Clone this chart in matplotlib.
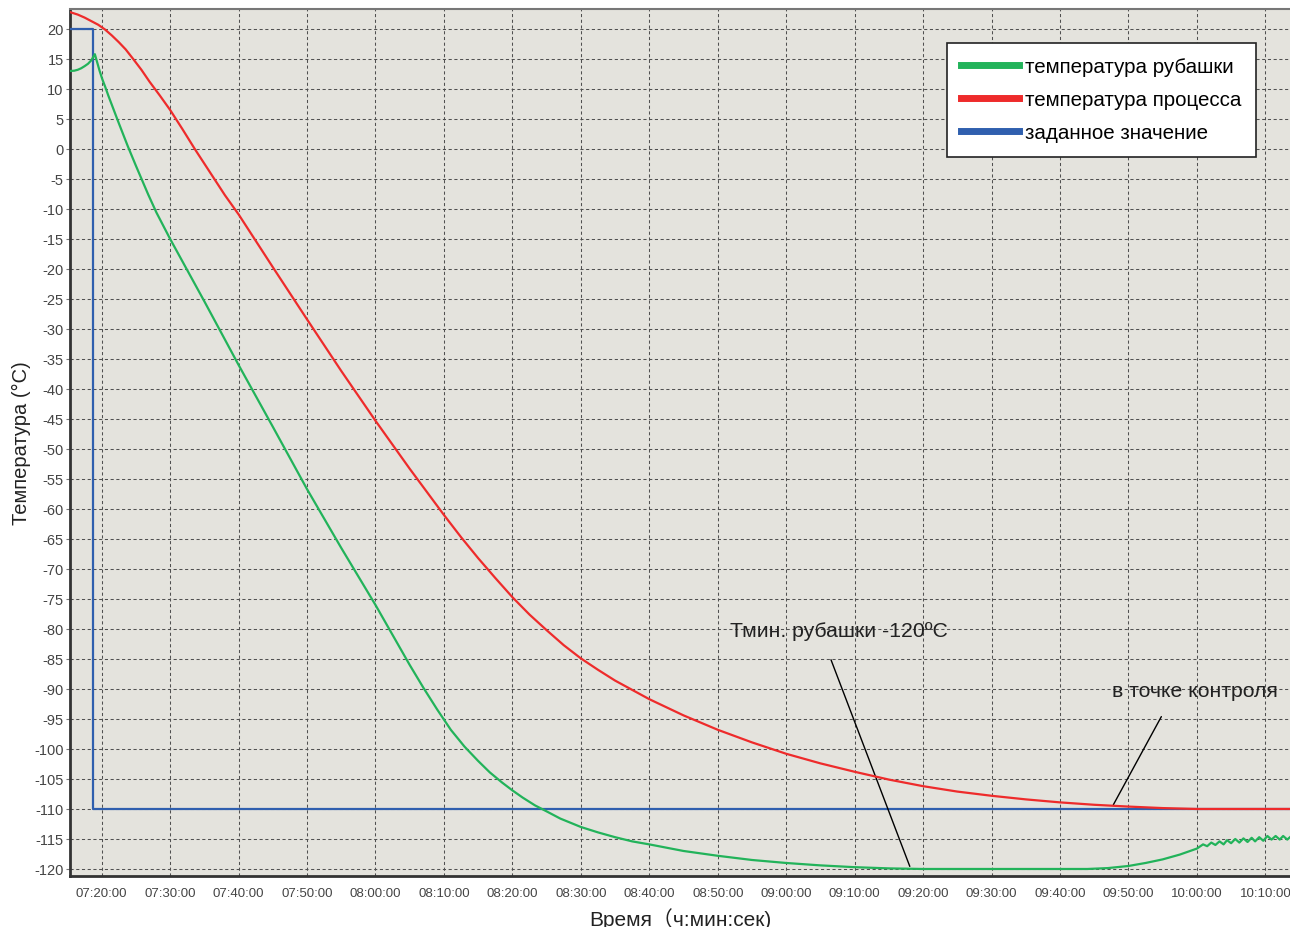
import numpy as np
import matplotlib.pyplot as plt
from matplotlib.ticker import FixedLocator, FuncFormatter

plt.rcParams['font.family'] = ['Liberation Sans', 'Noto Sans CJK SC', 'DejaVu Sans']
plt.rcParams['axes.unicode_minus'] = False

# time in minutes after 07:00:00
x_min, x_max = 15.37, 193.6

# setpoint
sp_t = [15.37, 18.7, 18.7, 193.7]
sp_v = [20, 20, -110, -110]

# process temperature
proc_t = [15.4, 16.5, 17.5, 18.5, 19.5, 20.5, 21.5, 22.5, 23.5, 24.6, 25.8, 27, 28.5, 30,
          31.8, 33.6, 36, 38, 40, 45, 50, 55, 60, 65, 70, 72.5, 75, 77.5, 80, 82.5, 85, 87.5,
          90, 92.5, 95, 100, 105, 110, 115, 120, 125, 130, 135, 140, 145, 150,
          155, 160, 165, 170, 175, 180, 193.7]
proc_v = [22.8, 22.4, 21.9, 21.3, 20.7, 19.9, 18.9, 17.8, 16.6, 15.0, 13.2, 11.2, 8.9, 6.5,
          3.3, 0, -4.2, -7.7, -10.9, -19.7, -28.4, -37, -45.3, -53.3, -61, -64.7, -68.2,
          -71.5, -74.7, -77.6, -80.2, -82.7, -84.9, -86.8, -88.6, -91.7, -94.4, -96.8, -98.9,
          -100.8, -102.4, -103.8, -105.1, -106.2, -107.1, -107.8, -108.4, -108.9, -109.3,
          -109.6, -109.85, -110, -110]

# jacket temperature
jack_t = [15.4, 16.0, 16.5, 17.0, 17.5, 18.0, 18.5, 19.0, 19.3, 19.7, 20.1, 20.5, 21.0, 21.5,
          22.5, 23.8, 25, 26.8, 28, 30, 35, 40, 45, 50, 55, 60, 63, 65, 67, 69, 71, 73, 75,
          76.7, 78.5, 80, 81.5, 83.3, 85, 87, 90, 92.5, 95, 97.5, 100, 105, 110, 115, 120,
          125, 130, 135, 140, 160, 164, 167, 170, 172.5, 175, 177.5, 180,
          180.9, 181.5, 182.1, 182.7, 183.3, 183.9, 184.4, 185.0, 185.6, 186.2, 186.8,
          187.4, 188.0, 188.5, 189.1, 189.7, 190.3, 190.9, 191.5, 192.1, 192.6, 193.2, 193.7]
jack_v = [13.0, 13.05, 13.2, 13.45, 13.8, 14.2, 14.8, 15.8, 14.6, 13.0, 11.6, 10.4, 8.8, 7.3,
          4.3, 0.5, -2.8, -7.6, -10.6, -15, -25.4, -36, -46.3, -56.7, -66.5, -76, -82, -86,
          -89.8, -93.4, -96.8, -99.6, -102, -103.9, -105.6, -106.9, -108.1, -109.4, -110.4,
          -111.6, -113, -113.9, -114.7, -115.4, -115.9, -117.0, -117.8, -118.5, -119.0,
          -119.4, -119.7, -119.9, -120, -120, -120, -119.85, -119.5, -119.0, -118.4,
          -117.6, -116.6,
          -115.9, -116.2, -115.6, -116.0, -115.4, -115.9, -115.2, -115.7, -115.0, -115.6,
          -114.9, -115.5, -114.8, -115.4, -114.7, -115.3, -114.5, -115.1, -114.5, -115.1,
          -114.5, -115.1, -114.6]

x_ticks = list(range(20, 191, 10))
y_ticks = list(range(-120, 21, 5))

fig = plt.figure(figsize=(12.9, 9.28), dpi=100)
ax = fig.add_axes([70 / 1290, 1 - 877 / 928, 1 - 70 / 1290, (877 - 10) / 928])
ax.set_facecolor('#e4e3dd')

ax.plot(sp_t, sp_v, color='#2f5fae', lw=1.6, label='заданное значение', zorder=3)
ax.plot(proc_t, proc_v, color='#ee2b2b', lw=1.6, label='температура процесса', zorder=4)
ax.plot(jack_t, jack_v, color='#22b35a', lw=1.6, label='температура рубашки', zorder=5)

ax.set_xlim(x_min, x_max)
ax.set_ylim(-121.17, 23.33)
ax.xaxis.set_major_locator(FixedLocator(x_ticks))
ax.yaxis.set_major_locator(FixedLocator(y_ticks))
ax.xaxis.set_major_formatter(FuncFormatter(
    lambda m, p: "%02d:%02d:00" % (7 + int(m) // 60, int(m) % 60)))
ax.grid(True, which='major', axis='both', color='#505050', ls=(0, (3, 2.5)), lw=0.75)
ax.tick_params(axis='y', labelsize=10.5, labelcolor='#444444', length=3, color='#777777', pad=1.5)
ax.tick_params(axis='x', labelsize=9.5, labelcolor='#444444', length=0, pad=8)

for s in ['left', 'bottom']:
    ax.spines[s].set_color('#333333')
    ax.spines[s].set_linewidth(2)
ax.spines['top'].set_color('#777777')
ax.spines['top'].set_linewidth(1.5)
ax.spines['right'].set_visible(False)

ax.set_ylabel('Температура (°C)', fontsize=14.5, color='#222222', labelpad=2)
ax.set_xlabel('Время（ч:мин:сек)', fontsize=15, color='#222222', labelpad=6)

handles, labels = ax.get_legend_handles_labels()
order = [2, 1, 0]
leg = ax.legend([handles[i] for i in order], [labels[i] for i in order],
                loc='upper right', bbox_to_anchor=(0.972, 0.961), borderaxespad=0,
                fontsize=14.8, fancybox=False, framealpha=1, edgecolor='#222222',
                handlelength=2.8, handletextpad=0.3, labelspacing=0.68, borderpad=0.7)
leg.get_frame().set_linewidth(1.2)
for ln in leg.get_lines():
    ln.set_linewidth(5)

# annotations
ax.text(111.8, -80.3, 'Тмин. рубашки -120ºC', fontsize=15.3, color='#222222', va='center')
ax.annotate('', xy=(138.2, -120), xytext=(126.4, -84.7),
            arrowprops=dict(arrowstyle='-', color='black', lw=1))
ax.text(167.6, -90.2, 'в точке контроля', fontsize=15.3, color='#222222', va='center')
ax.annotate('', xy=(167.6, -109.7), xytext=(175.0, -94.2),
            arrowprops=dict(arrowstyle='-', color='black', lw=1))

fig.savefig('out.png', dpi=100)
